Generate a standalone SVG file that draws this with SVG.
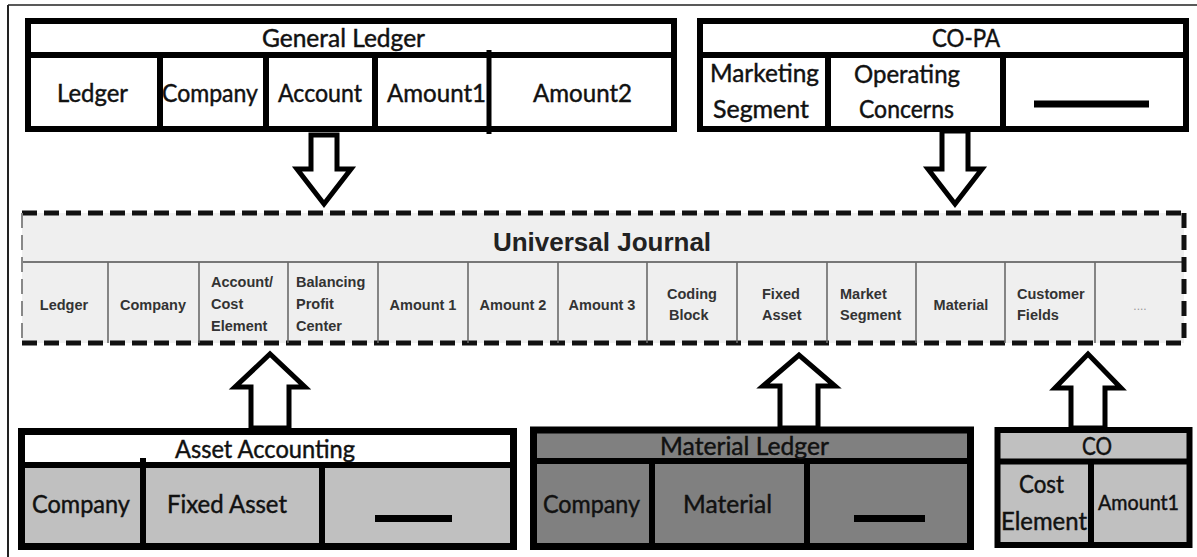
<svg xmlns="http://www.w3.org/2000/svg" width="1197" height="557" viewBox="0 0 1197 557">
<defs>
<style>
.t{font-family:Lato,"Liberation Sans",sans-serif;font-size:25px;fill:#111;stroke:#111;stroke-width:0.45}
.uj{font-family:"Liberation Sans",Arial,sans-serif;font-weight:bold;font-size:14.5px;fill:#333}
.box{stroke:#000;stroke-width:6}
.div{stroke:#000;stroke-width:6}
.cdiv{stroke:#6a6a6a;stroke-width:1.6}
.arrow{fill:#fff;stroke:#000;stroke-width:5;stroke-linejoin:miter}
.dash{stroke:#000;stroke-width:7}
</style>
</defs>
<rect width="1197" height="557" fill="#fff"/>
<g id="frame">
<line x1="8" y1="5" x2="1197" y2="5" stroke="#222" stroke-width="1.5"/>
<line x1="8" y1="5" x2="8" y2="557" stroke="#222" stroke-width="2"/>
</g>

<g id="general-ledger">
<rect class="box" x="28" y="21" width="646" height="108" fill="#fff"/>
<line class="div" x1="28" y1="55" x2="674" y2="55"/>
<line class="div" x1="160" y1="55" x2="160" y2="129"/>
<line class="div" x1="266" y1="55" x2="266" y2="129"/>
<line class="div" x1="375" y1="55" x2="375" y2="129"/>
<line x1="489" y1="50" x2="489" y2="134" stroke="#000" stroke-width="5"/>
<text class="t" x="262" y="47" textLength="163" lengthAdjust="spacingAndGlyphs">General Ledger</text>
<text class="t" x="57" y="102" textLength="71" lengthAdjust="spacingAndGlyphs">Ledger</text>
<text class="t" x="162" y="102" textLength="96" lengthAdjust="spacingAndGlyphs">Company</text>
<text class="t" x="278" y="102" textLength="84" lengthAdjust="spacingAndGlyphs">Account</text>
<text class="t" x="387" y="102" textLength="99" lengthAdjust="spacingAndGlyphs">Amount1</text>
<text class="t" x="533" y="102" textLength="99" lengthAdjust="spacingAndGlyphs">Amount2</text>
</g>

<g id="co-pa">
<rect class="box" x="700" y="21" width="486" height="108" fill="#fff"/>
<line class="div" x1="700" y1="55" x2="1186" y2="55"/>
<line class="div" x1="828" y1="55" x2="828" y2="129"/>
<line class="div" x1="1003" y1="55" x2="1003" y2="129"/>
<text class="t" x="932" y="47" textLength="68" lengthAdjust="spacingAndGlyphs">CO-PA</text>
<text class="t" x="710" y="82" textLength="109" lengthAdjust="spacingAndGlyphs">Marketing</text>
<text class="t" x="713" y="118" textLength="96" lengthAdjust="spacingAndGlyphs">Segment</text>
<text class="t" x="854" y="83" textLength="106" lengthAdjust="spacingAndGlyphs">Operating</text>
<text class="t" x="859" y="118" textLength="95" lengthAdjust="spacingAndGlyphs">Concerns</text>
<line class="dash" x1="1034" y1="104" x2="1149" y2="104"/>
</g>

<g id="universal-journal">
<rect x="22" y="213" width="1162" height="130" fill="#efefef"/>
<line x1="22" y1="262" x2="1184" y2="262" stroke="#777" stroke-width="2"/>
<line x1="22" y1="213" x2="1184" y2="213" stroke="#111" stroke-width="5" stroke-dasharray="15 7"/>
<line x1="22" y1="343" x2="1184" y2="343" stroke="#111" stroke-width="5" stroke-dasharray="15 7"/>
<line x1="1184" y1="213" x2="1184" y2="343" stroke="#111" stroke-width="5" stroke-dasharray="15 7"/>
<line x1="22" y1="213" x2="22" y2="343" stroke="#888" stroke-width="2" stroke-dasharray="15 7"/>
<g class="cdiv">
<line x1="108" y1="262" x2="108" y2="343"/>
<line x1="199" y1="262" x2="199" y2="343"/>
<line x1="288" y1="262" x2="288" y2="343"/>
<line x1="378" y1="262" x2="378" y2="343"/>
<line x1="468" y1="262" x2="468" y2="343"/>
<line x1="558" y1="262" x2="558" y2="343"/>
<line x1="647" y1="262" x2="647" y2="343"/>
<line x1="737" y1="262" x2="737" y2="343"/>
<line x1="827" y1="262" x2="827" y2="343"/>
<line x1="916" y1="262" x2="916" y2="343"/>
<line x1="1005" y1="262" x2="1005" y2="343"/>
<line x1="1095" y1="262" x2="1095" y2="343"/>
</g>
<text x="602" y="251" text-anchor="middle" font-family="'Liberation Sans',Arial,sans-serif" font-weight="bold" font-size="26" fill="#222">Universal Journal</text>
<text class="uj" x="64" y="310" text-anchor="middle">Ledger</text>
<text class="uj" x="153" y="310" text-anchor="middle">Company</text>
<text class="uj" x="211" y="287">Account/</text>
<text class="uj" x="211" y="309">Cost</text>
<text class="uj" x="211" y="331">Element</text>
<text class="uj" x="296" y="287">Balancing</text>
<text class="uj" x="296" y="309">Profit</text>
<text class="uj" x="296" y="331">Center</text>
<text class="uj" x="423" y="310" text-anchor="middle">Amount 1</text>
<text class="uj" x="513" y="310" text-anchor="middle">Amount 2</text>
<text class="uj" x="602" y="310" text-anchor="middle">Amount 3</text>
<text class="uj" x="667" y="299">Coding</text>
<text class="uj" x="669" y="320">Block</text>
<text class="uj" x="762" y="299">Fixed</text>
<text class="uj" x="762" y="320">Asset</text>
<text class="uj" x="840" y="299">Market</text>
<text class="uj" x="840" y="320">Segment</text>
<text class="uj" x="961" y="310" text-anchor="middle">Material</text>
<text class="uj" x="1017" y="299">Customer</text>
<text class="uj" x="1017" y="320">Fields</text>
<text x="1140" y="310" text-anchor="middle" font-family="'Liberation Sans',Arial,sans-serif" font-size="12" fill="#999">....</text>
</g>

<g id="asset-accounting">
<rect x="21.5" y="431.5" width="492" height="115" fill="#c0c0c0"/>
<rect x="21.5" y="431.5" width="492" height="33.5" fill="#fff"/>
<rect x="21.5" y="431.5" width="492" height="115" fill="none" stroke="#000" stroke-width="7"/>
<line class="div" x1="21.5" y1="465" x2="513.5" y2="465"/>
<line class="div" x1="143" y1="458" x2="143" y2="550"/>
<line class="div" x1="322" y1="465" x2="322" y2="546"/>
<text class="t" x="175" y="458" textLength="180" lengthAdjust="spacingAndGlyphs">Asset Accounting</text>
<text class="t" x="32" y="513" textLength="98" lengthAdjust="spacingAndGlyphs">Company</text>
<text class="t" x="167" y="513" textLength="120" lengthAdjust="spacingAndGlyphs">Fixed Asset</text>
<line class="dash" x1="375" y1="518.5" x2="452" y2="518.5"/>
</g>

<g id="material-ledger">
<rect x="533.5" y="430" width="437" height="116.5" fill="#808080" stroke="#000" stroke-width="7"/>
<line class="div" x1="533.5" y1="461" x2="970.5" y2="461"/>
<line class="div" x1="652" y1="461" x2="652" y2="546"/>
<line class="div" x1="807" y1="461" x2="807" y2="546"/>
<text class="t" x="660" y="455" textLength="169" lengthAdjust="spacingAndGlyphs">Material Ledger</text>
<text class="t" x="543" y="513" textLength="97" lengthAdjust="spacingAndGlyphs">Company</text>
<text class="t" x="683" y="513" textLength="89" lengthAdjust="spacingAndGlyphs">Material</text>
<line class="dash" x1="854" y1="518.5" x2="925" y2="518.5"/>
</g>

<g id="co">
<rect x="997.5" y="430" width="192" height="115" fill="#c0c0c0" stroke="#000" stroke-width="6"/>
<line class="div" x1="997.5" y1="461.5" x2="1189.5" y2="461.5"/>
<line class="div" x1="1091" y1="461.5" x2="1091" y2="545"/>
<text class="t" x="1082" y="455" textLength="30" lengthAdjust="spacingAndGlyphs">CO</text>
<text class="t" x="1019" y="493" textLength="45" lengthAdjust="spacingAndGlyphs">Cost</text>
<text class="t" x="1001" y="530" textLength="86" lengthAdjust="spacingAndGlyphs">Element</text>
<text class="t" x="1098" y="510" style="font-size:21px" textLength="81" lengthAdjust="spacingAndGlyphs">Amount1</text>
</g>

<g id="connectors">
<path class="arrow" d="M311,135 L337,135 L337,169 L351,169 L324,204 L297,169 L311,169 Z"/>
<path class="arrow" d="M942,131 L968,131 L968,169 L982,169 L955,204 L928,169 L942,169 Z"/>
<path class="arrow" d="M251,428 L251,387 L235,387 L270,354 L305,387 L289,387 L289,428 Z"/>
<path class="arrow" d="M780,428 L780,386 L763,386 L799,355 L835,386 L818,386 L818,428 Z"/>
<path class="arrow" d="M1071,428 L1071,388 L1055,388 L1088,354 L1121,388 L1105,388 L1105,428 Z"/>
</g>
</svg>
